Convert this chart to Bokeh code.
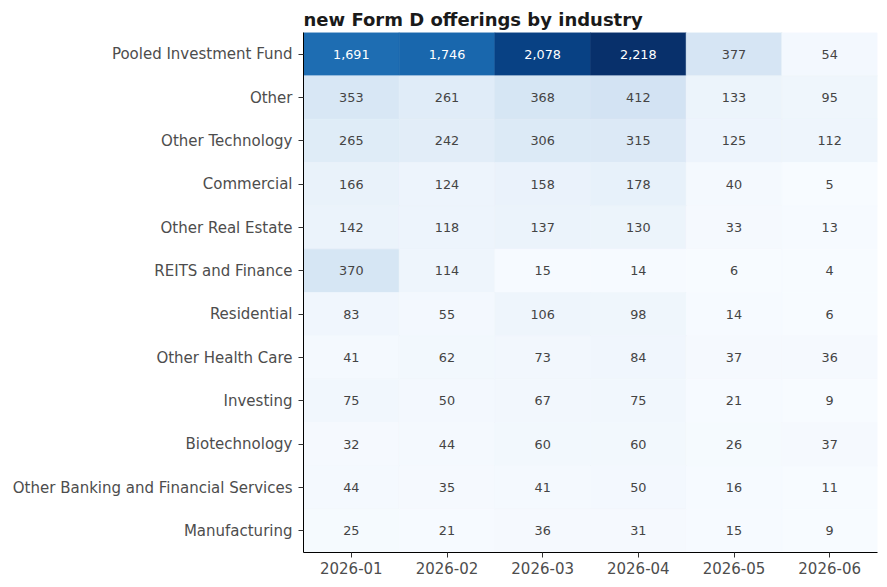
from bokeh.plotting import figure
from bokeh.models import ColumnDataSource, LinearColorMapper, FactorRange
from bokeh.palettes import Blues256
from bokeh.embed import file_html
from bokeh.resources import INLINE
from bokeh.core.properties import value

months = ["2026-01", "2026-02", "2026-03", "2026-04", "2026-05", "2026-06"]
industries = ["Pooled Investment Fund", "Other", "Other Technology", "Commercial",
              "Other Real Estate", "REITS and Finance", "Residential", "Other Health Care",
              "Investing", "Biotechnology", "Other Banking and Financial Services", "Manufacturing"]
pooled = [1691, 1746, 2078, 2218, 377, 54]
other = [353, 261, 368, 412, 133, 95]
other_tech = [265, 242, 306, 315, 125, 112]
commercial = [166, 124, 158, 178, 40, 5]
other_re = [142, 118, 137, 130, 33, 13]
reits = [370, 114, 15, 14, 6, 4]
residential = [83, 55, 106, 98, 14, 6]
health = [41, 62, 73, 84, 37, 36]
investing = [75, 50, 67, 75, 21, 9]
biotech = [32, 44, 60, 60, 26, 37]
banking = [44, 35, 41, 50, 16, 11]
manufacturing = [25, 21, 36, 31, 15, 9]
rows = [pooled, other, other_tech, commercial, other_re, reits, residential,
        health, investing, biotech, banking, manufacturing]

xs, ys, vals, labels, tcolors = [], [], [], [], []
allv = [v for r in rows for v in r]
lo, hi = min(allv), max(allv)
for ind, r in zip(industries, rows):
    for m, v in zip(months, r):
        xs.append(m); ys.append(ind); vals.append(v)
        labels.append(f"{v:,}")
        tcolors.append("white" if (v - lo) / (hi - lo) > 0.55 else "#444444")

src = ColumnDataSource(dict(x=xs, y=ys, v=vals, label=labels, tc=tcolors))
mapper = LinearColorMapper(palette=list(reversed(Blues256)), low=lo, high=hi)

p = figure(width=887, height=587, x_range=FactorRange(*months),
           y_range=FactorRange(*reversed(industries)),
           output_backend="svg", toolbar_location=None,
           min_border_left=303, min_border_right=10, min_border_top=32, min_border_bottom=35)
p.rect(x="x", y="y", width=1, height=1, source=src,
       fill_color={"field": "v", "transform": mapper},
       line_color={"field": "v", "transform": mapper}, line_width=0.6)
p.text(x="x", y="y", text="label", source=src, text_color="tc",
       text_align="center", text_baseline="middle", text_font_size="12.8px",
       text_font=value("DejaVu Sans"))

p.title.text = "new Form D offerings by industry"
p.title.text_font = "DejaVu Sans"
p.title.text_font_size = "18px"
p.title.text_font_style = "bold"
p.title.text_color = "#1a1a1a"
p.title.align = "left"
p.title.offset = 0
p.title.standoff = 5

p.outline_line_color = None
p.grid.grid_line_color = None
for ax in (p.xaxis[0], p.yaxis[0]):
    ax.axis_line_color = "black"
    ax.axis_line_width = 1
    ax.major_tick_line_color = "#333333"
    ax.major_tick_out = 5
    ax.major_tick_in = 0
    ax.minor_tick_line_color = None
    ax.major_label_text_font = "DejaVu Sans"
    ax.major_label_text_font_size = "15px"
    ax.major_label_text_color = "#4d4d4d"
p.xaxis.major_label_standoff = 4
p.yaxis.major_label_standoff = 6
p.x_range.range_padding = 0
p.y_range.range_padding = 0
p.background_fill_color = "white"

open("out.html", "w").write(file_html(p, INLINE))
